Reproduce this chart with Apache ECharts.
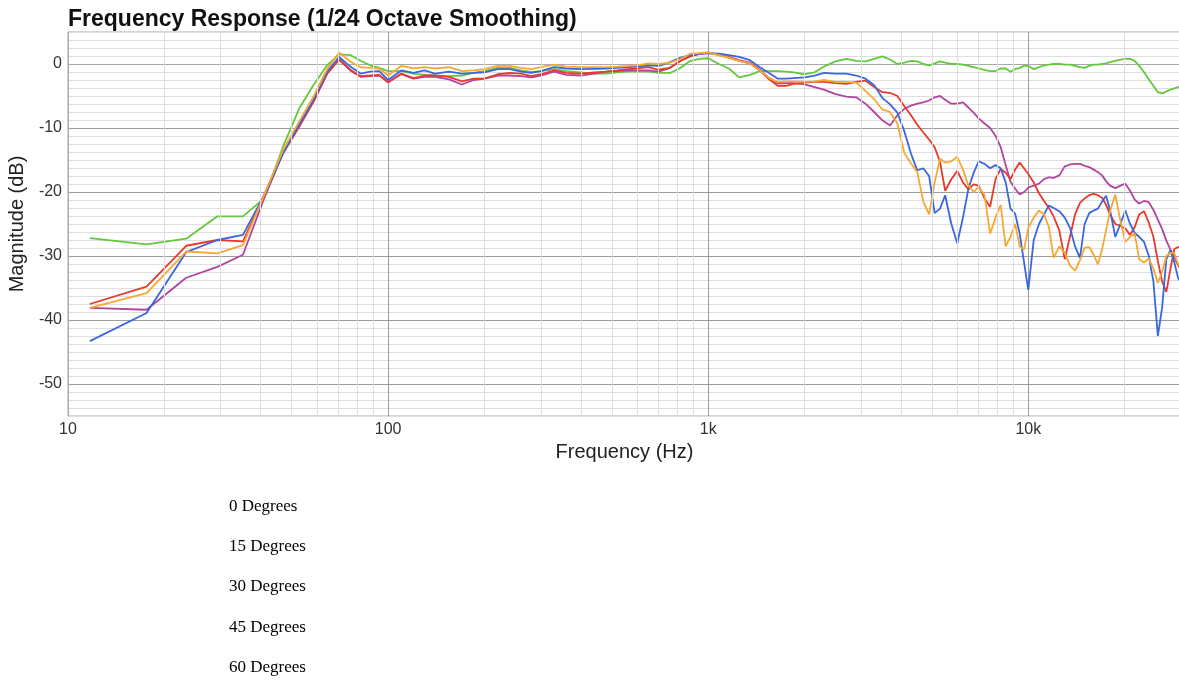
<!DOCTYPE html>
<html>
<head>
<meta charset="utf-8">
<title>Frequency Response</title>
<script src="https://cdn.jsdelivr.net/npm/echarts@6/dist/echarts.min.js"></script>
<style>
  html, body { margin: 0; padding: 0; background: #fff; }
  #fr_charts { width: 1179px; height: 681px; }
</style>
</head>
<body>
<div id="fr_charts"></div>
<script>
// frequency points (Hz) shared by all five curves
const freqs = [
  11.7, 17.6, 23.4, 29.3, 35.2, 41.0, 46.9, 52.7, 58.6, 64.5, 70.3, 76.2, 82.0, 87.9, 93.8,
  100, 110, 120, 130, 140, 155, 170, 185, 200, 220, 240, 260, 280, 300, 330, 360, 400, 440,
  480, 520, 560, 600, 650, 700, 760, 820, 880, 940, 1000, 1080, 1160, 1250, 1350, 1450, 1550,
  1650, 1750, 1850, 2000, 2150, 2300, 2500, 2700, 2900, 3100, 3300, 3500, 3700, 3900, 4100,
  4300, 4500, 4700, 4900, 5100, 5300, 5500, 5750, 6000, 6250, 6500, 6750, 7000, 7300, 7600,
  7900, 8200, 8500, 8800, 9100, 9400, 9700, 10000, 10400, 10800, 11200, 11600, 12000, 12500,
  13000, 13500, 14000, 14500, 15000, 15500, 16000, 16500, 17000, 17500, 18000, 18700, 19400,
  20100, 20800, 21500, 22200, 23000, 23800, 24600, 25400, 26200, 27000, 27800, 28600, 29400, 30000
];

const deg0 = [
  -27.2, -28.2, -27.3, -23.8, -23.8, -21.0, -13.0, -7.0, -3.2, -0.2, 1.5, 1.4, 0.5, -0.2, -0.6,
  -1.1, -1.1, -1.5, -1.7, -1.8, -1.9, -1.8, -1.4, -1.1, -0.6, -0.6, -1.0, -1.25, -1.1, -0.8, -1.1, -1.3, -1.5,
  -1.5, -1.3, -1.2, -1.2, -1.2, -1.4, -1.4, -0.6, 0.5, 0.8, 0.9, 0.0, -0.7, -2.1, -1.7, -1.1, -1.1,
  -1.1, -1.2, -1.3, -1.6, -1.3, -0.4, 0.4, 0.8, 0.5, 0.4, 0.8, 1.2, 0.7, 0.0, 0.2,
  0.5, 0.4, 0.0, -0.2, 0.1, 0.4, 0.2, 0.0, 0.0, -0.1, -0.3, -0.5, -0.7, -0.9, -1.1,
  -1.1, -0.7, -0.7, -1.2, -0.8, -0.6, -0.3, -0.3, -0.8, -0.5, -0.2, -0.1, 0.0, 0.0,
  -0.1, -0.1, -0.3, -0.5, -0.6, -0.3, -0.1, -0.1, 0.0, 0.1, 0.3, 0.5, 0.7,
  0.8, 0.8, 0.5, -0.3, -1.3, -2.4, -3.4, -4.4, -4.6, -4.3, -4.0, -3.8, -3.6, -3.5
];

const deg15 = [
  -38.1, -38.4, -33.4, -31.7, -29.8, -21.0, -14.0, -9.8, -5.8, -1.5, 0.7, -1.0, -2.0, -1.9, -1.8,
  -2.8, -1.6, -2.3, -2.0, -2.0, -2.4, -3.2, -2.5, -2.3, -1.8, -1.8, -1.9, -2.1, -1.8, -1.2, -1.7, -1.8, -1.5,
  -1.2, -1.1, -1.0, -1.0, -1.0, -1.2, -0.6, 0.5, 1.3, 1.6, 1.7, 1.5, 1.1, 0.6, 0.2, -0.9, -2.2,
  -3.0, -3.0, -3.0, -3.2, -3.6, -4.0, -4.7, -5.1, -5.2, -6.2, -7.5, -8.8, -9.6, -8.0, -7.0,
  -6.5, -6.2, -6.0, -5.7, -5.2, -5.0, -5.6, -6.2, -6.2, -6.0, -6.8, -7.6, -8.5, -9.3, -10.0,
  -11.2, -13.0, -15.8, -18.4, -19.5, -20.4, -20.0, -19.3, -19.0, -18.7, -18.0, -17.7, -17.8, -17.4,
  -16.0, -15.7, -15.6, -15.6, -15.9, -16.1, -16.5, -16.9, -17.4, -18.3, -19.0, -19.4, -19.0,
  -18.7, -19.8, -21.2, -21.8, -21.4, -21.6, -22.8, -24.3, -25.8, -27.6, -29.0, -30.2, -31.5, -32.0
];

const deg30 = [
  -37.5, -34.8, -28.4, -27.5, -27.7, -20.5, -14.0, -9.8, -5.8, -1.5, 0.7, -0.9, -1.9, -1.8, -1.7,
  -2.9, -1.5, -2.2, -1.8, -1.8, -2.0, -2.7, -2.3, -2.3, -1.6, -1.4, -1.5, -1.9, -1.6, -1.0, -1.4, -1.5, -1.3,
  -1.2, -1.0, -0.8, -0.7, -0.5, -0.9, -0.6, 0.5, 1.2, 1.6, 1.8, 1.4, 1.0, 0.5, 0.1, -1.0, -2.4,
  -3.4, -3.4, -3.1, -2.9, -2.8, -2.8, -3.0, -3.1, -2.8, -2.6, -3.6, -4.4, -4.5, -5.0, -6.6,
  -8.0, -9.5, -10.7, -11.8, -13.0, -15.3, -19.8, -18.0, -16.7, -18.5, -19.6, -18.8, -19.0, -21.0, -22.3,
  -18.0, -16.4, -17.0, -18.0, -16.5, -15.4, -16.3, -17.2, -18.5, -20.2, -21.4, -22.5, -23.8, -26.0,
  -30.5, -27.0, -23.5, -21.7, -21.0, -20.5, -20.3, -20.5, -20.9, -22.0, -23.5, -25.0, -25.3,
  -25.7, -26.7, -25.5, -23.5, -23.0, -24.8, -27.0, -30.8, -34.0, -35.6, -32.0, -28.9, -28.6, -28.5
];

const deg45 = [
  -43.3, -38.9, -29.4, -27.5, -26.7, -20.5, -14.0, -9.5, -5.5, -1.2, 1.1, -0.4, -1.5, -1.2, -1.1,
  -2.5, -1.0, -1.4, -1.0, -1.5, -1.2, -1.5, -1.4, -1.3, -0.8, -0.8, -1.2, -1.4, -1.1, -0.5, -0.7, -0.8, -0.75,
  -0.7, -0.6, -0.5, -0.4, -0.2, -0.3, 0.3, 1.0, 1.4, 1.6, 1.7, 1.6, 1.4, 1.1, 0.6, -0.5, -1.4,
  -2.3, -2.3, -2.2, -2.1, -1.8, -1.4, -1.5, -1.5, -1.8, -2.3, -3.3, -5.3, -6.3, -7.6, -10.5,
  -14.0, -16.6, -16.3, -17.5, -23.3, -22.6, -20.5, -25.0, -28.0, -24.0, -19.5, -17.0, -15.2, -15.6, -16.3,
  -15.8, -16.3, -18.5, -22.6, -23.4, -26.5, -31.0, -35.3, -27.5, -25.0, -23.5, -22.1, -22.5, -23.0,
  -24.0, -25.6, -28.5, -30.3, -25.0, -23.3, -22.9, -22.6, -21.5, -20.6, -22.8, -27.0, -25.0,
  -22.9, -25.0, -26.4, -27.0, -27.8, -30.0, -34.0, -42.5, -38.0, -30.5, -29.1, -31.0, -33.5, -34.0
];

const deg60 = [
  -38.1, -35.8, -29.3, -29.6, -28.3, -20.5, -13.5, -9.0, -5.0, -0.8, 1.8, 0.4, -0.5, -0.6, -0.7,
  -1.8, -0.3, -0.7, -0.5, -0.7, -0.5, -1.1, -1.0, -0.8, -0.3, -0.3, -0.6, -0.8, -0.5, -0.1, -0.4, -0.5, -0.5,
  -0.5, -0.4, -0.3, -0.2, 0.1, 0.0, 0.2, 0.8, 1.6, 1.7, 1.8, 1.4, 1.0, 0.5, 0.1, -1.0, -2.2,
  -2.8, -2.7, -2.7, -2.8, -2.7, -2.5, -2.8, -2.8, -2.9, -4.2, -5.5, -7.1, -7.5, -9.3, -13.9,
  -15.5, -16.9, -21.5, -23.5, -18.5, -14.8, -15.4, -15.2, -14.5, -16.5, -19.0, -20.0, -19.2, -20.5, -26.5,
  -24.0, -22.0, -28.5, -27.0, -25.0, -28.5, -29.0, -25.6, -24.0, -22.9, -23.5, -25.5, -30.3, -28.5,
  -29.5, -31.5, -32.3, -30.7, -28.7, -28.6, -29.8, -31.3, -29.0, -26.0, -23.0, -20.4, -24.5,
  -27.8, -27.0, -26.5, -30.5, -31.0, -30.4, -32.0, -34.2, -32.5, -30.0, -29.5, -29.6, -31.3, -31.8
];

const seriesNames = ['0 Degrees', '15 Degrees', '30 Degrees', '45 Degrees', '60 Degrees'];
const seriesValues = [deg0, deg15, deg30, deg45, deg60];
const seriesColors = ['#63c83c', '#b0469c', '#e8392c', '#3a66de', '#f6a834'];

const decadeLabels = { 10: '10', 100: '100', 1000: '1k', 10000: '10k' };

// light vertical lines at 2..9 x each decade
const minorFreqs = [];
[10, 100, 1000, 10000].forEach(d => {
  for (let m = 2; m <= 9; m++) {
    if (d * m < 30000) minorFreqs.push(d * m);
  }
});

const MINOR = '#dedede';
const MAJOR = '#9c9c9c';
const SANS = 'Liberation Sans, Arial, sans-serif';

const fr_charts = echarts.init(document.getElementById('fr_charts'));

const series = seriesNames.map((name, i) => ({
  name: name,
  type: 'line',
  symbol: 'none',
  smooth: false,
  lineStyle: { width: 1.8, color: seriesColors[i] },
  itemStyle: { color: seriesColors[i] },
  data: freqs.map((f, j) => [f, seriesValues[i][j]])
}));

// carrier for the minor frequency grid lines, kept under the curves
series.unshift({
  name: 'grid',
  type: 'line',
  z: 1,
  data: [],
  silent: true,
  markLine: {
    silent: true,
    symbol: 'none',
    animation: false,
    label: { show: false },
    lineStyle: { color: MINOR, type: 'solid', width: 1 },
    data: minorFreqs.map(f => ({ xAxis: f }))
  }
});

const option = {
  animation: false,
  title: {
    text: 'Frequency Response (1/24 Octave Smoothing)',
    left: 63,
    top: 3,
    textStyle: {
      fontFamily: SANS,
      fontWeight: 'bold',
      fontSize: 23,
      color: '#111'
    }
  },
  legend: {
    data: seriesNames,
    orient: 'vertical',
    left: 224,
    top: 498,
    padding: 0,
    icon: 'none',
    itemWidth: 0,
    itemHeight: 16,
    itemGap: 23.25,
    selectedMode: false,
    textStyle: {
      fontFamily: 'Liberation Serif, Times New Roman, serif',
      fontSize: 17,
      color: '#000'
    }
  },
  grid: {
    left: 68,
    top: 32,
    right: -2,
    bottom: 265,
    show: true,
    borderColor: '#a8a8a8',
    borderWidth: 1,
    containLabel: false,
    outerBoundsMode: 'none'
  },
  xAxis: {
    type: 'log',
    logBase: 10,
    min: 10,
    max: 30000,
    name: 'Frequency (Hz)',
    nameLocation: 'middle',
    nameGap: 25,
    nameTextStyle: { fontFamily: SANS, fontSize: 20, color: '#222' },
    axisLine: { show: true, lineStyle: { color: '#a8a8a8' } },
    axisTick: { show: false },
    axisLabel: {
      margin: 6,
      fontFamily: SANS,
      fontSize: 16,
      color: '#333',
      formatter: v => decadeLabels[Math.round(v)] || ''
    },
    splitLine: { show: true, lineStyle: { color: MAJOR, width: 1 } }
  },
  yAxis: {
    type: 'value',
    min: -55,
    max: 5,
    interval: 1.25,
    name: 'Magnitude (dB)',
    nameLocation: 'middle',
    nameGap: 32,
    nameTextStyle: { fontFamily: SANS, fontSize: 20, color: '#222' },
    axisLine: { show: true, lineStyle: { color: '#a8a8a8' } },
    axisTick: { show: false },
    axisLabel: {
      margin: 6,
      fontFamily: SANS,
      fontSize: 16,
      color: '#333',
      formatter: v => (v % 10 === 0 ? String(v) : '')
    },
    splitLine: {
      show: true,
      lineStyle: {
        width: 1,
        color: [MINOR, MINOR, MINOR, MINOR, MAJOR, MINOR, MINOR, MINOR]
      }
    }
  },
  series: series
};

fr_charts.setOption(option);
window.addEventListener('resize', () => {
  fr_charts.resize();
});
</script>
</body>
</html>
